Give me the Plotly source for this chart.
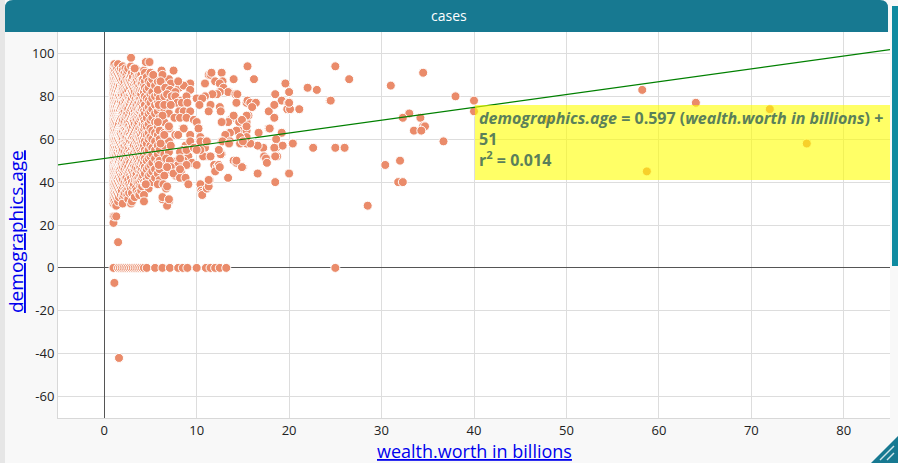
import plotly.graph_objects as go

# billionaires: wealth (billions) vs age
# dense block of $1-7B people, one age list per wealth step
cluster_wealth = [1.0, 1.1, 1.2, 1.3, 1.4, 1.5, 1.6, 1.7, 1.8, 1.9, 2.0,
                  2.1, 2.2, 2.3, 2.4, 2.5, 2.6, 2.7, 2.8, 2.9, 3.0, 3.1, 3.2, 3.3, 3.4,
                  3.5, 3.6, 3.7, 3.8, 3.9, 4.0, 4.1, 4.2, 4.3, 4.4, 4.6, 4.8, 5.0, 5.2,
                  5.5, 5.8, 6.0, 6.5, 7.0]
cluster_ages = [
    [93, 92, 91, 90, 89, 88, 87, 86, 85, 84, 83, 82, 81, 80, 79, 78, 77, 76, 75, 74, 73, 72,
     71, 70, 69, 68, 67, 66, 65, 64, 63, 62, 61, 60, 59, 58, 57, 56, 55, 54, 53, 52, 51, 50,
     49, 48, 47, 46, 45, 44, 43, 42, 41, 40, 39, 38, 37, 36, 35, 34, 33, 32, 31, 30, 24, 21],
    [95, 91, 88, 86, 84, 83, 80, 79, 77, 74, 73, 71, 68, 66, 65, 63, 60, 58, 57, 55, 52, 50,
     49, 46, 44, 42, 39, 37, 35, 33, 31, 24],
    [92, 90, 87, 85, 82, 81, 78, 76, 75, 72, 70, 69, 67, 64, 62, 61, 59, 56, 54, 53, 51, 48,
     47, 45, 43, 41, 40, 38, 36, 34, 30],
    [94, 89, 88, 86, 83, 80, 79, 77, 74, 73, 71, 68, 66, 63, 61, 60, 58, 55, 53, 52, 50, 47,
     46, 44, 42, 39, 37, 33, 29, 24],
    [93, 91, 87, 85, 84, 81, 78, 76, 75, 72, 70, 67, 65, 64, 62, 59, 57, 56, 54, 51, 49, 48,
     45, 43, 41, 38, 36, 35, 32],
    [95, 90, 88, 86, 83, 82, 79, 77, 74, 73, 71, 69, 66, 63, 61, 60, 58, 55, 53, 50, 48, 46,
     44, 42, 40, 37, 34, 31],
    [92, 89, 87, 84, 81, 80, 78, 75, 72, 70, 68, 67, 64, 62, 59, 57, 56, 52, 50, 49, 47, 45,
     43, 39, 36, 33],
    [91, 88, 86, 85, 82, 79, 76, 74, 73, 71, 69, 65, 63, 61, 58, 55, 54, 51, 48, 46, 44, 41,
     38, 35],
    [93, 90, 87, 83, 81, 78, 77, 75, 72, 70, 66, 64, 62, 60, 57, 53, 52, 49, 47, 43, 40, 37, 34],
    [89, 86, 84, 82, 80, 76, 73, 71, 68, 67, 65, 61, 59, 56, 54, 50, 48, 45, 42, 39, 36],
    [94, 92, 88, 85, 83, 79, 77, 74, 72, 69, 66, 64, 63, 60, 58, 55, 52, 51, 47, 44, 41, 38,
     33, 30],
    [90, 86, 82, 79, 74, 71, 66, 62, 57, 53, 49, 45, 39, 34],
    [91, 87, 84, 81, 78, 76, 73, 70, 68, 65, 62, 59, 57, 54, 50, 48, 46, 43, 40, 35],
    [93, 89, 83, 78, 75, 70, 65, 61, 59, 52, 48, 42, 37],
    [90, 88, 85, 82, 79, 75, 72, 71, 67, 64, 61, 58, 56, 53, 49, 45, 42, 39, 36],
    [92, 87, 84, 80, 76, 72, 67, 63, 58, 54, 50, 46, 40, 34],
    [93, 86, 83, 80, 77, 74, 70, 68, 66, 63, 60, 57, 55, 51, 47, 44, 41, 37, 32],
    [88, 85, 79, 77, 71, 66, 64, 60, 56, 51, 45, 39, 35],
    [89, 87, 84, 81, 78, 76, 73, 69, 65, 62, 59, 54, 52, 49, 46, 43, 38],
    [94, 90, 86, 82, 78, 74, 70, 65, 61, 57, 53, 47, 42, 37, 30],
    [91, 88, 85, 82, 79, 75, 71, 67, 64, 61, 58, 56, 53, 48, 45, 40, 35, 31],
    [89, 84, 81, 76, 72, 69, 66, 62, 57, 52, 49, 44, 38],
    [93, 86, 83, 80, 77, 74, 70, 68, 63, 60, 57, 54, 50, 47, 43, 39],
    [91, 87, 82, 78, 73, 71, 67, 64, 59, 55, 51, 46, 41, 33],
    [88, 85, 79, 75, 70, 65, 60, 56, 52, 47, 43, 37],
    [89, 87, 84, 81, 76, 72, 69, 66, 62, 59, 55, 51, 49, 44, 41, 36],
    [92, 86, 83, 78, 74, 71, 67, 63, 58, 54, 50, 46, 40],
    [89, 84, 80, 77, 72, 68, 64, 61, 57, 53, 49, 42, 35],
    [90, 85, 82, 79, 75, 73, 70, 65, 61, 58, 56, 52, 48, 45, 40, 34],
    [87, 83, 79, 76, 73, 69, 63, 60, 55, 51, 47, 43, 38],
    [90, 86, 81, 77, 74, 70, 66, 62, 58, 54, 49, 45, 41, 36],
    [88, 86, 83, 78, 74, 71, 67, 64, 60, 57, 53, 50, 46, 42, 38],
    [88, 84, 79, 75, 71, 67, 63, 59, 56, 52, 48, 43],
    [92, 85, 82, 78, 73, 69, 65, 61, 57, 53, 49, 45, 40],
    [91, 87, 84, 80, 76, 72, 68, 66, 62, 59, 55, 51, 47, 44, 39],
    [89, 83, 79, 74, 70, 66, 62, 58, 54, 50, 46, 41],
    [87, 84, 78, 75, 72, 67, 63, 60, 55, 51, 47, 43, 37],
    [91, 86, 81, 77, 73, 69, 65, 61, 57, 52, 48, 44],
    [88, 82, 79, 74, 70, 64, 60, 56, 53, 49, 45, 40],
    [85, 80, 76, 72, 68, 63, 59, 55, 51, 46, 42],
    [87, 81, 77, 73, 66, 62, 57, 53, 49, 44],
    [84, 79, 75, 70, 64, 60, 55, 50, 46, 41],
    [86, 80, 74, 68, 63, 57, 53, 48],
    [88, 81, 77, 72, 65, 59, 54, 45],
]

mid_points = [
    (2.9, 98), (4.5, 96), (4.9, 96), (3.3, 93), (5.3, 90), (6.2, 92), (7.5, 92), (6.3, 90),
    (6.1, 87), (7.2, 86), (8.1, 84), (5.8, 83), (6.6, 84), (7.1, 83), (7.7, 82), (6.8, 81),
    (7.3, 80), (7.7, 80), (8.3, 78), (7.9, 77), (8.4, 77), (5.9, 76), (6.5, 76), (7.2, 76),
    (8.1, 73), (8.6, 73), (9.3, 73), (6.3, 71), (7.6, 70), (8.2, 70), (8.9, 70), (9.7, 69),
    (5.8, 68), (10.0, 68), (7.0, 66), (8.5, 65), (8.6, 65), (10.2, 65), (6.5, 62), (7.7, 62),
    (8.0, 62), (9.3, 62), (10.4, 61), (6.1, 58), (10.7, 59), (7.2, 57), (8.8, 57), (10.9, 56),
    (8.5, 55), (8.2, 54), (6.7, 51), (9.1, 52), (7.9, 50), (8.6, 50), (7.1, 50), (9.5, 49),
    (5.9, 48), (8.0, 48), (10.0, 48), (7.2, 47), (6.8, 47), (8.3, 45), (6.5, 43), (7.7, 43),
    (7.5, 44), (8.2, 42), (8.8, 42), (5.8, 39), (6.4, 39), (4.5, 39), (9.1, 39), (6.7, 37),
    (6.8, 38), (4.3, 34), (6.3, 32), (6.3, 33), (7.0, 31), (4.3, 31), (6.8, 29), (7.0, 32),
    (10.4, 39), (10.5, 36), (10.6, 35), (10.6, 34), (11.1, 37), (11.3, 38), (11.4, 41),
    (11.3, 41), (13.4, 42), (15.0, 47), (14.0, 50), (14.3, 49), (14.9, 47), (14.3, 50),
    (12.7, 53), (10.9, 52), (11.3, 52), (10.7, 52), (11.5, 52), (12.6, 53), (8.9, 48),
    (8.2, 51), (8.2, 46), (11.9, 48), (12.2, 47), (12.4, 48), (12.0, 45), (10.4, 59),
    (11.1, 59), (10.4, 55), (8.9, 55), (9.3, 59), (9.7, 56), (10.0, 55), (11.3, 90),
    (11.5, 90), (11.6, 91), (12.7, 91), (14.0, 88), (12.0, 87), (12.8, 87), (10.9, 86),
    (12.5, 86), (9.3, 86), (8.6, 85), (8.0, 87), (9.3, 83), (15.5, 94), (16.2, 88),
    (12.9, 84), (13.5, 82), (13.4, 82), (14.2, 81), (14.4, 81), (12.5, 82), (12.2, 81),
    (11.7, 81), (10.9, 80), (10.0, 79), (10.6, 79), (8.9, 80), (9.0, 77), (10.3, 76),
    (11.5, 76), (11.3, 73), (12.5, 75), (12.6, 73), (14.3, 77), (15.4, 77), (13.6, 69),
    (14.6, 68), (15.4, 68), (15.6, 71), (15.4, 71), (14.0, 71), (14.9, 69), (13.4, 68),
    (12.7, 68), (15.5, 78), (15.8, 77), (16.4, 77), (16.0, 75), (17.8, 73), (18.4, 70),
    (18.5, 81), (19.2, 78), (19.6, 86), (19.9, 77), (19.8, 74), (20.1, 74), (21.1, 74),
    (18.4, 76), (17.8, 65), (14.6, 64), (15.4, 64), (14.3, 64), (13.6, 63), (13.1, 62),
    (16.7, 63), (19.2, 63), (18.6, 60), (20.4, 58), (17.2, 56), (17.3, 52), (17.5, 51),
    (17.6, 49), (18.6, 56), (18.7, 52), (19.3, 57), (18.4, 56), (16.6, 57), (16.6, 44),
    (18.5, 40), (18.5, 52), (12.7, 59), (13.6, 59), (14.7, 58), (15.4, 58), (15.8, 58),
    (15.4, 61), (14.7, 61), (15.0, 59), (12.4, 55), (12.8, 59), (13.5, 58), (12.5, 47),
    (15.4, 66), (20.0, 82), (20.0, 77), (20.0, 44), (22.0, 84), (23.0, 83), (24.4, 78),
    (22.6, 56), (17.9, 65),
]

far_points = [
    (25.0, 94), (26.5, 88), (24.5, 78), (25.0, 56), (26.0, 56), (28.5, 29), (31.0, 85),
    (34.5, 91), (38.0, 80), (40.0, 78), (40.0, 73), (33.0, 72), (32.3, 70), (34.2, 70),
    (34.5, 66), (34.7, 66), (33.5, 64), (34.3, 64), (36.7, 59), (30.4, 48), (32.0, 50),
    (31.8, 40), (32.3, 40), (48.0, 69), (58.2, 83), (64.0, 77), (72.0, 74), (76.0, 58),
    (58.7, 45),
]

# age recorded as 0 (missing) at these wealth values
zero_age_wealth = [1.0, 1.5, 1.7, 1.9, 2.1, 2.3, 2.5, 2.7, 2.9, 3.1, 3.3, 3.5, 3.7, 3.9,
                   4.1, 4.3, 4.6, 5.5, 6.3, 7.1, 8.0, 8.5, 9.0, 10.0, 11.0, 11.5, 12.0,
                   12.5, 13.2, 25.0]

odd_points = [(1.5, 12), (1.1, -7), (1.6, -42)]

y_ticks = [-60, -40, -20, 0, 20, 40, 60, 80, 100]

# least squares line as printed on the chart
slope = 0.597
intercept = 51
r_squared = 0.014

xs, ys = [], []
for w, ages in zip(cluster_wealth, cluster_ages):
    for a in ages:
        xs.append(w)
        ys.append(a)
for w, a in mid_points + far_points + odd_points:
    xs.append(w)
    ys.append(a)
for w in zero_age_wealth:
    xs.append(w)
    ys.append(0)

FONT = "Open Sans"
TEAL = "#177991"

# plot area in pixels: x 58..890, y 32..418
def px_x(p):
    return (p - 58) / 832.0


def px_y(p):
    return (418 - p) / 386.0


fig = go.Figure()
fig.add_trace(go.Scatter(
    x=xs, y=ys, mode="markers",
    marker=dict(size=9, color="rgb(234,139,106)", line=dict(color="white", width=1)),
    hoverinfo="skip", showlegend=False
))
line_x = [-5, 85]
fig.add_trace(go.Scatter(
    x=line_x, y=[slope * v + intercept for v in line_x], mode="lines",
    line=dict(color="#008000", width=1.2), hoverinfo="skip", showlegend=False
))

shapes = [
    # left strip behind the card
    dict(type="rect", xref="paper", yref="paper", x0=px_x(-5), x1=px_x(5), y0=px_y(470), y1=px_y(-5),
         fillcolor="#e6e6e6", line=dict(width=0), layer="below"),
    # title bar with rounded top corners
    dict(type="path", xref="paper", yref="paper",
         path="M {a},{b} L {a},{c} Q {a},{d} {e},{d} L {f},{d} Q {g},{d} {g},{c} L {g},{b} Z".format(
             a=px_x(5), b=px_y(32), c=px_y(8), d=px_y(0), e=px_x(13), f=px_x(880), g=px_x(888)),
         fillcolor=TEAL, line=dict(width=0)),
    # scroll bar on the right
    dict(type="rect", xref="paper", yref="paper", x0=px_x(892), x1=px_x(899), y0=px_y(266), y1=px_y(6),
         fillcolor="#0e8aa0", line=dict(width=0)),
    # resize grip
    dict(type="path", xref="paper", yref="paper",
         path="M {a},{b} L {c},{d} L {c},{b} Z".format(a=px_x(870), b=px_y(464), c=px_x(899), d=px_y(435)),
         fillcolor=TEAL, line=dict(width=0)),
    dict(type="line", xref="paper", yref="paper", x0=px_x(880), y0=px_y(460), x1=px_x(894), y1=px_y(446),
         line=dict(color="rgba(255,255,255,0.8)", width=1.5)),
    dict(type="line", xref="paper", yref="paper", x0=px_x(887), y0=px_y(460), x1=px_x(894), y1=px_y(453),
         line=dict(color="rgba(255,255,255,0.8)", width=1.5)),
    # equation box
    dict(type="rect", xref="paper", yref="paper", x0=px_x(475), x1=1.0, y0=px_y(180), y1=px_y(105),
         fillcolor="rgba(255,255,0,0.6)", line=dict(width=0), layer="above"),
]

eq_text = ("<b><i>demographics.age</i> = {:.3f} (<i>wealth.worth in billions</i>) +<br>"
           "{}<br>r<sup>2</sup> = {:.3f}</b>").format(slope, intercept, r_squared)

annotations = [
    dict(text="cases", xref="paper", yref="paper", x=px_x(449), y=px_y(15),
         xanchor="center", yanchor="middle", showarrow=False,
         font=dict(family=FONT, size=14, color="white")),
    dict(text=eq_text, xref="paper", yref="paper", x=px_x(477), y=px_y(105),
         xanchor="left", yanchor="top", align="left", showarrow=False,
         font=dict(family=FONT, size=16, color="rgb(90,128,90)")),
    dict(text='<span style="text-decoration:underline">wealth.worth in billions</span>',
         xref="paper", yref="paper", x=px_x(474), y=px_y(451),
         xanchor="center", yanchor="middle", showarrow=False,
         font=dict(family=FONT, size=18, color="#0000ee")),
    dict(text='<span style="text-decoration:underline">demographics.age</span>',
         xref="paper", yref="paper", x=px_x(16), y=px_y(232),
         xanchor="center", yanchor="middle", showarrow=False, textangle=-90,
         font=dict(family=FONT, size=19, color="#0000ee")),
]

axis_common = dict(
    showgrid=True, gridcolor="#dddddd", gridwidth=1,
    zeroline=True, zerolinecolor="#555555", zerolinewidth=1,
    showline=True, linecolor="#d8d8d8", linewidth=1,
    ticks="", tickfont=dict(family=FONT, size=13, color="#222222"),
)

fig.update_layout(
    width=898, height=463,
    margin=dict(l=58, r=8, t=32, b=45),
    paper_bgcolor="#f8f8f8", plot_bgcolor="white",
    xaxis=dict(range=[-5, 85], dtick=10, tick0=0, **axis_common),
    yaxis=dict(range=[-70, 110], tickvals=y_ticks, ticktext=[str(v) for v in y_ticks],
               **axis_common),
    shapes=shapes, annotations=annotations,
    font=dict(family=FONT),
)

fig.write_html("out.html", config={"displayModeBar": False},
               post_script="document.body.style.margin='0';")
